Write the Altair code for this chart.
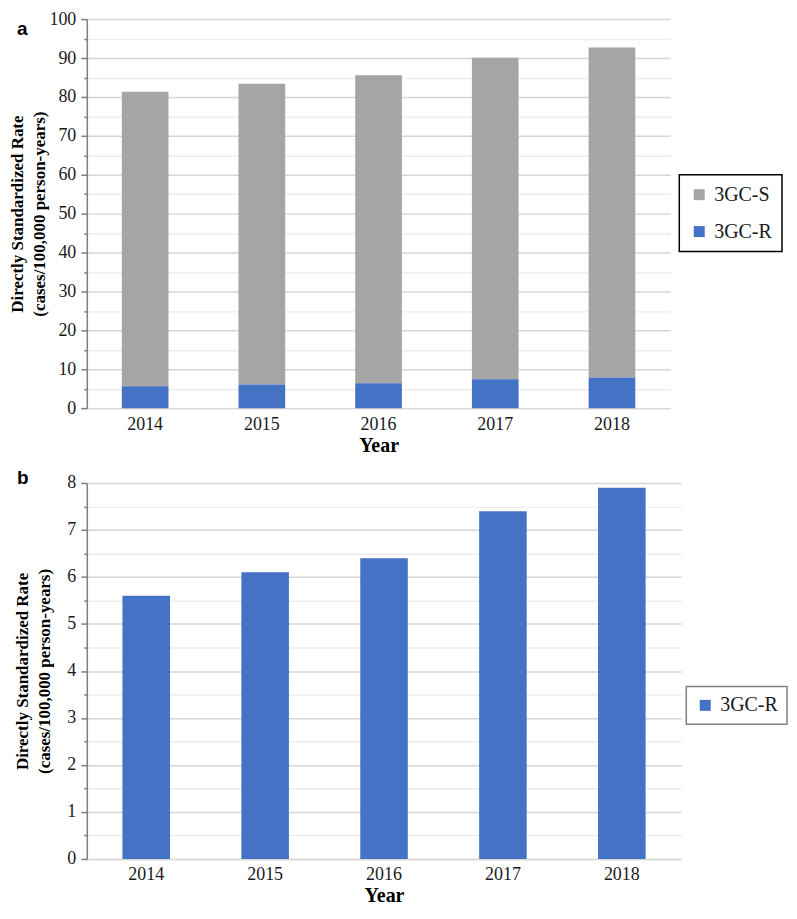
import altair as alt
import pandas as pd

# ---- data ----
years = ["2014", "2015", "2016", "2017", "2018"]
r_rates = [5.6, 6.1, 6.4, 7.4, 7.9]          # 3GC-R
s_rates = [75.7, 77.3, 79.2, 82.7, 84.8]     # 3GC-S (total minus 3GC-R)
series = ["3GC-S", "3GC-R"]
series_colors = ["#a5a5a5", "#4472c4"]
top_ticks = list(range(0, 101, 5))
bottom_ticks = [i / 2 for i in range(0, 17)]
panel_a = ["a"]
panel_b = ["b"]

top_df = pd.DataFrame({
    "Year": years * 2,
    "Series": ["3GC-S"] * len(years) + ["3GC-R"] * len(years),
    "Rate": s_rates + r_rates,
})
bottom_df = pd.DataFrame({"Year": years, "Series": ["3GC-R"] * len(years), "Rate": r_rates})

SERIF = "Liberation Serif"
SANS = "Liberation Sans"
TXT = "#1a1a1a"
y_title = ["Directly Standardized Rate", "(cases/100,000 person-years)"]


def x_enc(step_pad=0.6):
    return alt.X(
        "Year:N", sort=years,
        scale=alt.Scale(paddingInner=step_pad, paddingOuter=step_pad / 2),
        axis=alt.Axis(
            title="Year", labelAngle=0, ticks=False, grid=False,
            domainColor="#d9d9d9", domainWidth=1.5,
            labelFont=SERIF, labelFontSize=18, labelColor=TXT, labelPadding=7,
            titleFont=SERIF, titleFontSize=20, titleFontWeight="bold",
            titleColor="#000", titlePadding=2,
        ),
    )


def y_axis(values, major, title_padding):
    return alt.Axis(
        title=y_title, values=values,
        labelExpr=f"({major}) ? format(datum.value, 'd') : ''",
        labelFont=SERIF, labelFontSize=18, labelColor=TXT, labelPadding=5,
        domainColor="#7f7f7f", domainWidth=1.5,
        tickColor="#7f7f7f", tickWidth=1.5,
        tickSize={"condition": {"test": major, "value": 6}, "value": 3},
        grid=True,
        gridColor={"condition": {"test": major, "value": "#d6d6d6"}, "value": "#ededed"},
        gridWidth=1.5,
        titleFont=SERIF, titleFontSize=17, titleFontWeight="bold",
        titleColor="#000", titleLineHeight=22, titlePadding=title_padding,
    )


def letter(label, y):
    return alt.Chart(pd.DataFrame({"panel": label})).mark_text(
        font=SANS, fontSize=19, fontWeight="bold", align="left",
        baseline="alphabetic", color="#000",
    ).encode(text="panel:N", x=alt.value(-70), y=alt.value(y))


top_bars = alt.Chart(top_df).transform_calculate(
    stack_order="datum.Series == '3GC-R' ? 0 : 1"
).mark_bar().encode(
    x=x_enc(),
    y=alt.Y("Rate:Q", stack="zero", scale=alt.Scale(domain=[0, 100], nice=False),
            axis=y_axis(top_ticks, "datum.value % 10 == 0", 0)),
    color=alt.Color(
        "Series:N",
        scale=alt.Scale(domain=series, range=series_colors),
        legend=alt.Legend(
            title=None, orient="none", legendX=594, legendY=156,
            strokeColor="#000", padding=10, symbolType="square", symbolSize=121,
            symbolStrokeWidth=0, labelFont=SERIF, labelFontSize=20, labelColor=TXT,
            rowPadding=17, labelOffset=5,
        ),
    ),
    order=alt.Order("stack_order:Q"),
)

top = alt.layer(top_bars, letter(panel_a, 16)).properties(width=585, height=390)

bottom_bars = alt.Chart(bottom_df).mark_bar().encode(
    x=x_enc(),
    y=alt.Y("Rate:Q", scale=alt.Scale(domain=[0, 8], nice=False),
            axis=y_axis(bottom_ticks, "datum.value % 1 == 0", 13)),
    color=alt.Color(
        "Series:N",
        scale=alt.Scale(domain=["3GC-R"], range=[series_colors[1]]),
        legend=alt.Legend(
            title=None, orient="none", legendX=601, legendY=204,
            strokeColor="#808080", padding=9, symbolType="square", symbolSize=121,
            symbolStrokeWidth=0, labelFont=SERIF, labelFontSize=20, labelColor=TXT,
            labelOffset=5,
        ),
    ),
)

bottom = alt.layer(bottom_bars, letter(panel_b, 1)).properties(width=596, height=377)

chart = alt.vconcat(top, bottom, spacing=12).resolve_scale(
    color="independent", x="independent", y="independent"
).resolve_legend(color="independent").properties(
    padding={"left": 0, "top": 0, "right": 0, "bottom": 0}
).configure_view(stroke="transparent").configure_legend(strokeWidth=1.5)

chart.save("out.html", embed_options={"renderer": "svg", "actions": False})
